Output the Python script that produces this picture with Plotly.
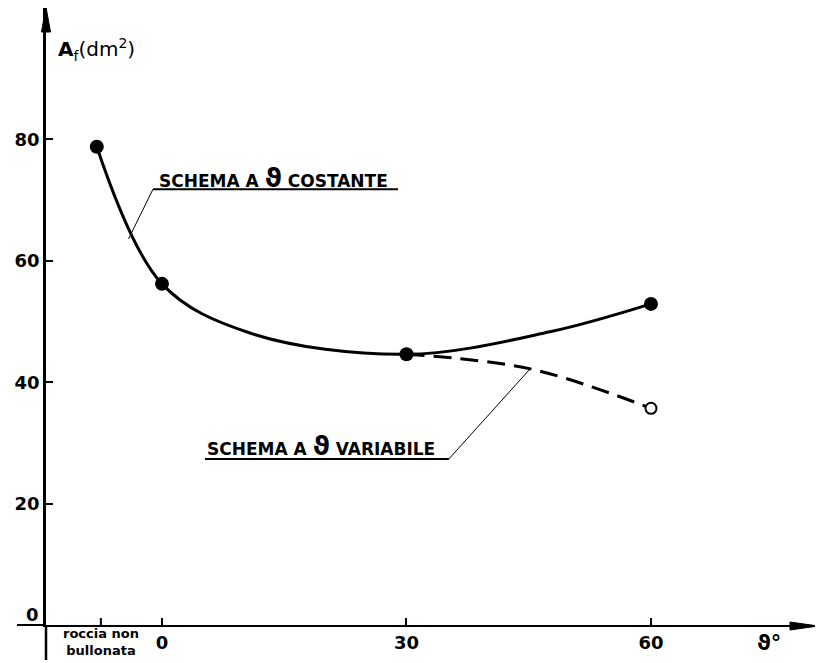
import plotly.graph_objects as go

# ---- data ----
tick_vals = [0, 30, 60]
tick_text = ["0", "30", "60"]
roccia_x = -7.5
y_tick_vals = [20, 40, 60, 80]

# measured points (schema a theta costante)
theta_pts = [-8, 0, 30, 60]
area_pts = [78.8, 56.2, 44.6, 52.9]

# points
theta_curve = [-8, 0, 10.8, 30, 47.6, 60]
area_curve = [78.8, 56.2, 48.1, 44.6, 48.3, 52.9]

# dashed curve (schema a theta variabile)
theta_var = [30, 45.2, 60]
area_var = [44.6, 42.2, 35.7]

OFF = 8  # page body margin
W, H = 823 - OFF, 663 - OFF
PL, PR, PT, PB = 46, 817, 8, 625          # plot area in page pixels
ML, MR, MT, MB = PL - OFF, (823 - PR), PT - OFF, (663 - PB)
pw, ph = PR - PL, PB - PT
x_range = [-14.23, 80.37]
y_range = [0, (PB - PT) / 6.07]


def px(xp):
    return (xp - PL) / pw


def py(yp):
    return (PB - yp) / ph


fig = go.Figure()
fig.add_trace(go.Scatter(x=theta_curve, y=area_curve, mode="lines",
                         line=dict(color="black", width=3, shape="spline", smoothing=1.0),
                         hoverinfo="skip", showlegend=False))
fig.add_trace(go.Scatter(x=theta_var, y=area_var, mode="lines",
                         line=dict(color="black", width=3, shape="spline", dash="18px,9px"),
                         hoverinfo="skip", showlegend=False))
fig.add_trace(go.Scatter(x=theta_pts, y=area_pts, mode="markers",
                         marker=dict(color="black", size=14), showlegend=False))
fig.add_trace(go.Scatter(x=[theta_var[-1]], y=[area_var[-1]], mode="markers",
                         marker=dict(color="white", size=11, line=dict(color="black", width=2)),
                         showlegend=False))

font_main = "DejaVu Sans"

fig.update_xaxes(range=x_range, showgrid=False, zeroline=False, showline=True,
                 linecolor="black", linewidth=2, ticks="inside", ticklen=7, tickwidth=2,
                 tickcolor="black", tickvals=tick_vals, ticktext=tick_text,
                 tickfont=dict(family=font_main, size=18, color="black", weight="bold"))
fig.update_yaxes(range=y_range, showgrid=False, zeroline=False, showline=True,
                 linecolor="black", linewidth=2.5, ticks="inside", ticklen=7, tickwidth=2,
                 tickcolor="black", tickvals=y_tick_vals,
                 tickfont=dict(family=font_main, size=18, color="black", weight="bold"))

shapes = [
    # axis extensions
    dict(type="line", xref="paper", yref="paper", x0=0, x1=0, y0=0, y1=py(660),
         line=dict(color="black", width=2.5)),
    dict(type="line", xref="paper", yref="paper", x0=px(17), x1=0, y0=0, y1=0,
         line=dict(color="black", width=2)),
    # tick for "roccia non bullonata"
    dict(type="line", xref="x", yref="paper", x0=roccia_x, x1=roccia_x, y0=0, y1=py(618),
         line=dict(color="black", width=2)),
    # arrow heads
    dict(type="path", xref="paper", yref="paper",
         path=f"M 0,{py(7)} L {px(41.5)},{py(32)} L {px(50.5)},{py(32)} Z",
         fillcolor="black", line=dict(color="black", width=1)),
    dict(type="path", xref="paper", yref="paper",
         path=f"M {px(818)},{py(626)} L {px(790)},{py(622)} L {px(790)},{py(630)} Z",
         fillcolor="black", line=dict(color="black", width=1)),
    # leader + underline, costante
    dict(type="line", xref="x", yref="y", x0=-4.1, y0=63.6, x1=-1.10, y1=71.8,
         line=dict(color="black", width=1)),
    dict(type="line", xref="x", yref="y", x0=-1.10, y0=71.8, x1=28.96, y1=71.8,
         line=dict(color="black", width=2)),
    # leader + underline, variabile
    dict(type="line", xref="x", yref="y", x0=5.28, y0=27.35, x1=35.2, y1=27.35,
         line=dict(color="black", width=2)),
    dict(type="line", xref="x", yref="y", x0=35.2, y0=27.35, x1=45.15, y1=42.17,
         line=dict(color="black", width=1)),
]

annotations = [
    # axis titles
    dict(xref="paper", yref="paper", x=px(56), y=py(50), xanchor="left",
         yanchor="middle", showarrow=False,
         text="<b>A</b><sub>f</sub>(dm<sup>2</sup>)",
         font=dict(family=font_main, size=20, color="black")),
    dict(xref="paper", yref="paper", x=px(769), y=py(643),
         xanchor="center", yanchor="middle", showarrow=False,
         text="<b>ϑ°</b>", font=dict(family=font_main, size=21, color="black")),
    # y "0" label
    dict(xref="paper", yref="paper", x=px(41), y=py(614), xanchor="right",
         yanchor="middle", showarrow=False, text="<b>0</b>",
         font=dict(family=font_main, size=18, color="black")),
    # roccia non bullonata
    dict(xref="x", yref="paper", x=roccia_x, y=py(642), xanchor="center",
         yanchor="middle", showarrow=False, text="<b>roccia non<br>bullonata</b>",
         font=dict(family=font_main, size=13, color="black")),
    # curve labels
    dict(xref="x", yref="y", x=-0.61, y=73.6, xanchor="left", yanchor="middle",
         showarrow=False,
         text="<b>SCHEMA A <span style='font-size:26px'>ϑ</span> COSTANTE</b>",
         font=dict(family=font_main, size=17, color="black")),
    dict(xref="x", yref="y", x=5.28, y=29.5, xanchor="left", yanchor="middle",
         showarrow=False,
         text="<b>SCHEMA A <span style='font-size:26px'>ϑ</span> VARIABILE</b>",
         font=dict(family=font_main, size=17, color="black")),
]

fig.update_layout(width=W, height=H, margin=dict(l=ML, r=MR, t=MT, b=MB),
                  paper_bgcolor="white", plot_bgcolor="white",
                  shapes=shapes, annotations=annotations, showlegend=False)

fig.write_html("out.html")
